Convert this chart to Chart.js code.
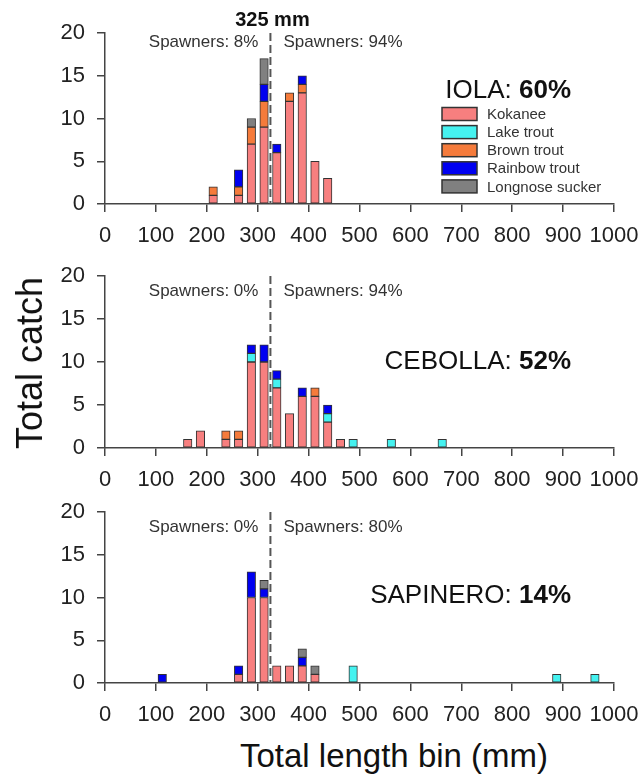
<!DOCTYPE html>
<html>
<head>
<meta charset="utf-8">
<title>Total catch by length bin</title>
<script src="https://cdn.jsdelivr.net/npm/chart.js@4.4.1/dist/chart.umd.min.js"></script>
<style>
  body { margin: 0; background: #fff; }
  #wrap { position: relative; width: 641px; height: 776px; overflow: hidden; background: #fff; }
  #wrap canvas { position: absolute; left: 0; }
  #ytitle {
    position: absolute; left: 30px; top: 363px;
    transform: translate(-50%, -50%) rotate(-90deg);
    font: 36px/36px 'Liberation Sans', Arial, sans-serif; color: #111; white-space: nowrap;
  }
  #xtitle {
    position: absolute; left: 394px; top: 739px; transform: translateX(-50%);
    font: 33px/33px 'Liberation Sans', Arial, sans-serif; color: #111; white-space: nowrap;
  }
</style>
</head>
<body>
<div id="wrap">
  <canvas id="iola" width="641" height="254" style="top:0px"></canvas>
  <canvas id="cebolla" width="641" height="252" style="top:246px"></canvas>
  <canvas id="sapinero" width="641" height="251" style="top:482px"></canvas>
  <div id="ytitle">Total catch</div>
  <div id="xtitle">Total length bin (mm)</div>
</div>
<script>
// species, bottom of stack first
const species = ['Kokanee', 'Lake trout', 'Brown trout', 'Rainbow trout', 'Longnose sucker'];
const speciesColors = ['#F77F7F', '#45F2F0', '#F57B3B', '#0000F0', '#808080'];

const cutoffLength = 325;

// Iola
const iolaBins     = [212.5, 262.5, 287.5, 312.5, 337.5, 362.5, 387.5, 412.5, 437.5];
const iolaKokanee  = [1, 1, 7, 9, 6, 12, 13, 5, 3];
const iolaLake     = [0, 0, 0, 0, 0, 0, 0, 0, 0];
const iolaBrown    = [1, 1, 2, 3, 0, 1, 1, 0, 0];
const iolaRainbow  = [0, 2, 0, 2, 1, 0, 1, 0, 0];
const iolaSucker   = [0, 0, 1, 3, 0, 0, 0, 0, 0];

// Cebolla
const cebollaBins    = [162.5, 187.5, 237.5, 262.5, 287.5, 312.5, 337.5, 362.5, 387.5, 412.5, 437.5, 462.5, 487.5, 562.5, 662.5];
const cebollaKokanee = [1, 2, 1, 1, 10, 10, 7, 4, 6, 6, 3, 1, 0, 0, 0];
const cebollaLake    = [0, 0, 0, 0, 1, 0, 1, 0, 0, 0, 1, 0, 1, 1, 1];
const cebollaBrown   = [0, 0, 1, 1, 0, 0, 0, 0, 0, 1, 0, 0, 0, 0, 0];
const cebollaRainbow = [0, 0, 0, 0, 1, 2, 1, 0, 1, 0, 1, 0, 0, 0, 0];
const cebollaSucker  = [0, 0, 0, 0, 0, 0, 0, 0, 0, 0, 0, 0, 0, 0, 0];

// Sapinero
const sapineroBins    = [112.5, 262.5, 287.5, 312.5, 337.5, 362.5, 387.5, 412.5, 487.5, 887.5, 962.5];
const sapineroKokanee = [0, 1, 10, 10, 2, 2, 2, 1, 0, 0, 0];
const sapineroLake    = [0, 0, 0, 0, 0, 0, 0, 0, 2, 1, 1];
const sapineroBrown   = [0, 0, 0, 0, 0, 0, 0, 0, 0, 0, 0];
const sapineroRainbow = [1, 1, 3, 1, 0, 0, 1, 0, 0, 0, 0];
const sapineroSucker  = [0, 0, 0, 1, 0, 0, 1, 1, 0, 0, 0];

const lakeNames   = ['IOLA', 'CEBOLLA', 'SAPINERO'];
const lakePercent = ['60%', '52%', '14%'];
const spawnersBelow = ['8%', '0%', '0%'];
const spawnersAbove = ['94%', '94%', '80%'];

const xTicks = { min: 0, max: 1000, step: 100 };
const yTicks = { min: 0, max: 20, step: 5 };

const FONT = "'Liberation Sans', Arial, sans-serif";
Chart.defaults.font.family = FONT;

// dashed cutoff line, spawner text, lake label and legend
const annotate = {
  id: 'annotate',
  afterDatasetsDraw(chart, args, opts) {
    const { ctx, chartArea } = chart;
    const cx = chart.scales.x.getPixelForValue(cutoffLength);
    ctx.save();

    ctx.strokeStyle = '#555';
    ctx.lineWidth = 2;
    ctx.setLineDash([8, 4]);
    ctx.beginPath();
    ctx.moveTo(cx, chartArea.top);
    ctx.lineTo(cx, chartArea.bottom);
    ctx.stroke();
    ctx.setLineDash([]);

    ctx.font = '17px ' + FONT;
    ctx.fillStyle = '#333';
    ctx.textBaseline = 'middle';
    const ty = chartArea.top + opts.spawnY;
    ctx.textAlign = 'right';
    ctx.fillText('Spawners: ' + opts.below, cx - 12, ty);
    ctx.textAlign = 'left';
    ctx.fillText('Spawners: ' + opts.above, cx + 13, ty);

    // lake name with bold percentage
    ctx.textBaseline = 'alphabetic';
    ctx.textAlign = 'right';
    ctx.fillStyle = '#111';
    const ny = chartArea.top + opts.nameY;
    ctx.font = 'bold 26px ' + FONT;
    const pw = ctx.measureText(opts.pct).width;
    ctx.fillText(opts.pct, 571, ny);
    ctx.font = '26px ' + FONT;
    ctx.fillText(opts.name + ': ', 571 - pw, ny);

    if (opts.header) {
      ctx.font = 'bold 20px ' + FONT;
      ctx.textAlign = 'center';
      ctx.fillText(cutoffLength + ' mm', cx + 2, 26);
    }

    if (opts.legend) {
      ctx.textAlign = 'left';
      ctx.textBaseline = 'middle';
      ctx.font = '15px ' + FONT;
      chart.data.datasets.forEach((ds, i) => {
        const y = chartArea.top + 81 + i * 18.1;
        ctx.fillStyle = ds.backgroundColor;
        ctx.fillRect(442, y - 6.5, 35, 13);
        ctx.strokeStyle = '#333';
        ctx.lineWidth = 1.5;
        ctx.strokeRect(442, y - 6.5, 35, 13);
        ctx.fillStyle = '#333';
        ctx.fillText(ds.label, 487, y + 1);
      });
    }
    ctx.restore();
  }
};

function buildDatasets(bins, series) {
  return species.map((name, s) => ({
    label: name,
    data: bins.map((b, i) => ({ x: b, y: series[s][i] || null })),
    backgroundColor: speciesColors[s],
    borderColor: '#333',
    borderWidth: 1,
    borderSkipped: false,
    barThickness: 8.5
  }));
}

function drawPanel(id, bins, series, idx, layout) {
  const axisColor = '#444';
  new Chart(document.getElementById(id), {
    type: 'bar',
    data: { datasets: buildDatasets(bins, series) },
    options: {
      responsive: false,
      devicePixelRatio: 1,
      animation: false,
      layout: { padding: { top: layout.padTop, right: 27, left: 0, bottom: 0 } },
      plugins: {
        legend: { display: false },
        tooltip: { enabled: false },
        annotate: {
          below: spawnersBelow[idx],
          above: spawnersAbove[idx],
          name: lakeNames[idx],
          pct: lakePercent[idx],
          spawnY: layout.spawnY,
          nameY: layout.nameY,
          header: idx === 0,
          legend: idx === 0
        }
      },
      scales: {
        x: {
          type: 'linear',
          stacked: true,
          offset: false,
          min: xTicks.min,
          max: xTicks.max,
          ticks: { stepSize: xTicks.step, color: '#222', font: { size: 22 }, padding: 11,
                   autoSkip: false, maxRotation: 0, minRotation: 0,
                   callback: v => String(v) },
          grid: { drawOnChartArea: false, offset: false, tickLength: 8, color: axisColor, lineWidth: 1.5 },
          border: { color: axisColor, width: 1.5 },
          // fixed axis box so the plot spans the same pixels in every panel
          afterFit: s => { s.height = 50; s.paddingLeft = 0; s.paddingRight = 0; }
        },
        y: {
          stacked: true,
          min: yTicks.min,
          max: yTicks.max,
          ticks: { stepSize: yTicks.step, color: '#222', font: { size: 22 }, padding: 12 },
          grid: { drawOnChartArea: false, tickLength: 8, color: axisColor, lineWidth: 1.5 },
          border: { color: axisColor, width: 1.5 },
          afterFit: s => { s.width = 105; }
        }
      }
    },
    plugins: [annotate]
  });
}

drawPanel('iola', iolaBins, [iolaKokanee, iolaLake, iolaBrown, iolaRainbow, iolaSucker], 0,
  { padTop: 33, spawnY: 9, nameY: 65 });
drawPanel('cebolla', cebollaBins, [cebollaKokanee, cebollaLake, cebollaBrown, cebollaRainbow, cebollaSucker], 1,
  { padTop: 30, spawnY: 15, nameY: 93 });
drawPanel('sapinero', sapineroBins, [sapineroKokanee, sapineroLake, sapineroBrown, sapineroRainbow, sapineroSucker], 2,
  { padTop: 30, spawnY: 15, nameY: 91 });
</script>
</body>
</html>
